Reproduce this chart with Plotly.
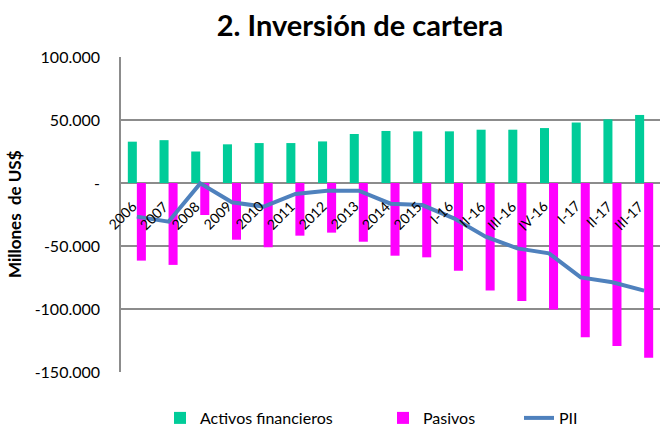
import plotly.graph_objects as go

# Categorías y valores (millones de US$)
periodos = ["2006", "2007", "2008", "2009", "2010", "2011", "2012", "2013",
            "2014", "2015", "I-16", "II-16", "III-16", "IV-16",
            "I-17", "II-17", "III-17"]
activos = [32800, 34000, 25000, 30700, 31700, 31700, 33000, 38900,
           41300, 41000, 41000, 42300, 42300, 43600, 48000, 50500, 54000]
pasivos = [-61600, -65000, -25400, -45000, -51000, -41800, -39400, -46600,
           -57700, -59000, -69600, -85400, -93700, -100300,
           -122500, -129400, -138600]
pii = [-26700, -30700, -300, -15300, -18800, -8700, -6100, -6100,
       -16400, -17500, -28000, -42600, -51900, -55800,
       -74900, -78800, -85400]

y_ticks = [-150000, -100000, -50000, 0, 50000, 100000]
y_labels = ["-150.000", "-100.000", "-50.000", "-", "50.000", "100.000"]

FONT = "Lato"
GRID = "#8c8c8c"

fig = go.Figure()
fig.add_trace(go.Bar(x=periodos, y=activos, name="Activos financieros",
                     marker=dict(color="#00cc99", line=dict(width=0)),
                     legend="legend", showlegend=True))
fig.add_trace(go.Bar(x=periodos, y=pasivos, name="Pasivos",
                     marker=dict(color="#ff00ff", line=dict(width=0)),
                     legend="legend2", showlegend=True))
fig.add_trace(go.Scatter(x=periodos, y=pii, name="PII", mode="lines",
                         line=dict(color="#4f81bd", width=4),
                         legend="legend3", showlegend=True))

# etiquetas de categoría junto al eje cero, giradas
for i, p in enumerate(periodos):
    fig.add_annotation(x=i, y=0, xref="x", yref="y", text=p,
                       textangle=-45, showarrow=False,
                       xanchor="right", yanchor="top", yshift=-12, xshift=5,
                       font=dict(family=FONT, size=14, color="black"))

fig.add_annotation(text="<b>Millones&nbsp;&nbsp;de US$</b>", textangle=-90,
                   xref="paper", yref="paper", x=0, y=0.5, xshift=-119,
                   showarrow=False, font=dict(family=FONT, size=17, color="black"))

leg = dict(orientation="h", yref="container", xref="container",
           yanchor="middle", xanchor="left", y=(426 - 418) / 426,
           font=dict(family=FONT, size=16, color="black"),
           bgcolor="rgba(0,0,0,0)")

fig.update_layout(
    width=661, height=426,
    margin=dict(l=121, r=1, t=57, b=54),
    plot_bgcolor="white", paper_bgcolor="white",
    showlegend=True,
    barmode="group", bargap=0.43, bargroupgap=0,
    title=dict(text="<b>2. Inversión de cartera</b>", xref="container",
               x=360 / 661, xanchor="center", y=0.94, yanchor="middle",
               font=dict(family=FONT, size=29, color="black")),
    legend=dict(leg, x=160 / 661),
    legend2=dict(leg, x=383 / 661),
    legend3=dict(leg, x=519 / 661),
    xaxis=dict(type="category", showticklabels=False, showgrid=False,
               showline=False, range=[-0.5, len(periodos) - 0.5]),
    yaxis=dict(range=[-150000, 100000], tickvals=y_ticks, ticktext=y_labels,
               showgrid=True, gridcolor=GRID, gridwidth=1.5,
               zeroline=True, zerolinecolor=GRID, zerolinewidth=1.5,
               showline=True, linecolor=GRID, linewidth=1.5,
               ticks="", ticklabelstandoff=16,
               tickfont=dict(family=FONT, size=16, color="black")),
)

fig.write_html("out.html", config={"displayModeBar": False},
               post_script="document.body.style.margin='0';")
